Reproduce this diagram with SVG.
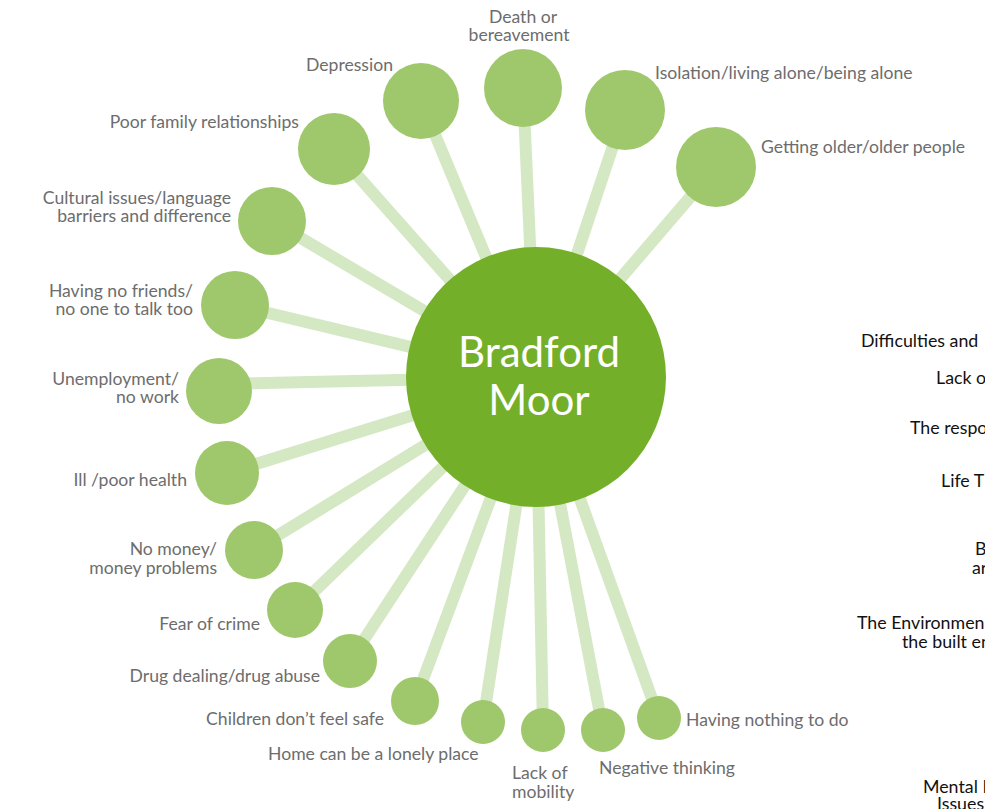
<svg xmlns="http://www.w3.org/2000/svg" width="985" height="809" viewBox="0 0 985 809">
<style>
.sat{fill:#9fc76b}
.hub{fill:#74af29}
.lbl{font-family:Lato,"Open Sans",sans-serif;font-size:17.6px;fill:#6d6d6d}
.r{text-anchor:end}
.m{text-anchor:middle}
.blk{font-family:Lato,"Open Sans",sans-serif;font-size:17.8px;fill:#111}
.hubt{font-family:Lato,"Open Sans",sans-serif;font-size:42px;fill:#fff;text-anchor:middle}
#connectors line{stroke:#d5e8c4;stroke-width:12}
</style>
<rect width="985" height="809" fill="#fff"/>
<g id="connectors">
<line x1="536" y1="377" x2="421" y2="101"/>
<line x1="536" y1="377" x2="523" y2="88"/>
<line x1="536" y1="377" x2="625" y2="110"/>
<line x1="536" y1="377" x2="716" y2="167"/>
<line x1="536" y1="377" x2="334" y2="149"/>
<line x1="536" y1="377" x2="272" y2="221"/>
<line x1="536" y1="377" x2="235" y2="305"/>
<line x1="536" y1="377" x2="219" y2="384"/>
<line x1="536" y1="377" x2="227" y2="473"/>
<line x1="536" y1="377" x2="254" y2="550"/>
<line x1="536" y1="377" x2="295" y2="610"/>
<line x1="536" y1="377" x2="350" y2="661"/>
<line x1="536" y1="377" x2="415" y2="701"/>
<line x1="536" y1="377" x2="483" y2="722"/>
<line x1="536" y1="377" x2="543" y2="730"/>
<line x1="536" y1="377" x2="603" y2="730"/>
<line x1="536" y1="377" x2="659" y2="718"/>
</g>
<g id="hub"><circle class="hub" cx="536" cy="377" r="130"/><text class="hubt" x="539" y="367">Bradford</text><text class="hubt" x="539" y="415">Moor</text></g>
<g id="n-depression"><circle class="sat" cx="421" cy="101" r="38"/><text class="lbl r" x="393" y="71">Depression</text></g>
<g id="n-death"><circle class="sat" cx="523" cy="88" r="39"/><text class="lbl m" x="523" y="23">Death or</text><text class="lbl m" x="519" y="41">bereavement</text></g>
<g id="n-isolation"><circle class="sat" cx="625" cy="110" r="40"/><text class="lbl" x="655" y="79">Isolation/living alone/being alone</text></g>
<g id="n-older"><circle class="sat" cx="716" cy="167" r="40"/><text class="lbl" x="761" y="153">Getting older/older people</text></g>
<g id="n-family"><circle class="sat" cx="334" cy="149" r="36"/><text class="lbl r" x="299" y="128">Poor family relationships</text></g>
<g id="n-cultural"><circle class="sat" cx="272" cy="221" r="34"/><text class="lbl r" x="231" y="204">Cultural issues/language</text><text class="lbl r" x="231" y="222">barriers and difference</text></g>
<g id="n-friends"><circle class="sat" cx="235" cy="305" r="34"/><text class="lbl r" x="193" y="297">Having no friends/</text><text class="lbl r" x="193" y="315">no one to talk too</text></g>
<g id="n-unemployment"><circle class="sat" cx="219" cy="391" r="33"/><text class="lbl r" x="179" y="385">Unemployment/</text><text class="lbl r" x="179" y="403">no work</text></g>
<g id="n-health"><circle class="sat" cx="227" cy="473" r="32"/><text class="lbl r" x="187" y="486">Ill /poor health</text></g>
<g id="n-money"><circle class="sat" cx="254" cy="550" r="29"/><text class="lbl r" x="217" y="555">No money/</text><text class="lbl r" x="217" y="574">money problems</text></g>
<g id="n-crime"><circle class="sat" cx="295" cy="610" r="28"/><text class="lbl r" x="260" y="630">Fear of crime</text></g>
<g id="n-drug"><circle class="sat" cx="350" cy="661" r="27"/><text class="lbl r" x="320" y="682">Drug dealing/drug abuse</text></g>
<g id="n-children"><circle class="sat" cx="415" cy="701" r="24"/><text class="lbl r" x="384" y="725">Children don’t feel safe</text></g>
<g id="n-home"><circle class="sat" cx="483" cy="722" r="22"/><text class="lbl" x="268" y="760">Home can be a lonely place</text></g>
<g id="n-mobility"><circle class="sat" cx="543" cy="730" r="22"/><text class="lbl" x="512" y="779">Lack of</text><text class="lbl" x="512" y="798">mobility</text></g>
<g id="n-negative"><circle class="sat" cx="603" cy="730" r="22"/><text class="lbl" x="599" y="774">Negative thinking</text></g>
<g id="n-nothing"><circle class="sat" cx="659" cy="718" r="22"/><text class="lbl" x="686" y="726">Having nothing to do</text></g>
<g id="right-labels">
<text class="blk" x="861" y="347">Difficulties and</text>
<text class="blk" x="936" y="384">Lack o</text>
<text class="blk" x="910" y="434">The respo</text>
<text class="blk" x="941" y="487">Life T</text>
<text class="blk" x="975" y="555">B</text>
<text class="blk" x="972" y="574">ar</text>
<text class="blk" x="857" y="629">The Environmen</text>
<text class="blk" x="902" y="648">the built en</text>
<text class="blk" x="923" y="793">Mental I</text>
<text class="blk" x="937" y="810">Issues</text>
</g>
</svg>
